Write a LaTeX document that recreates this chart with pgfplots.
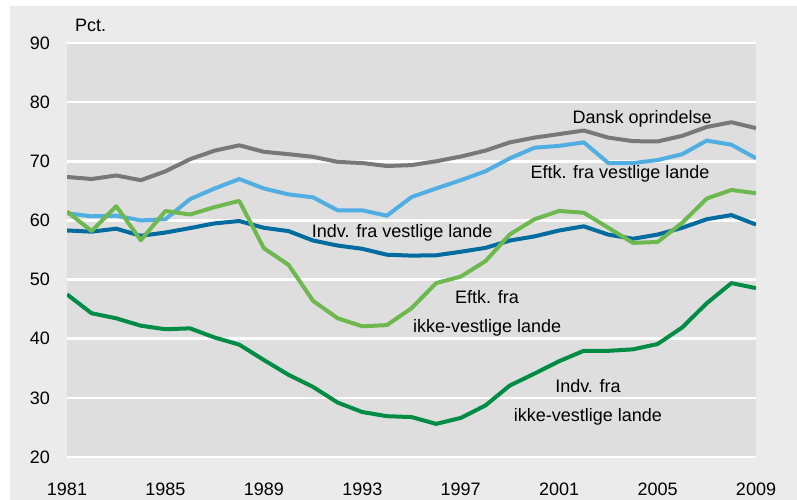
\documentclass[border=0pt]{standalone}
\usepackage{pgfplots}
\pgfplotsset{compat=1.18}
\usepackage{pgfplotstable}
\usepackage{fontspec}
\setmainfont{Liberation Sans}
\definecolor{outerbg}{HTML}{EBEBEB}
\definecolor{plotbg}{HTML}{DEDEDE}
\definecolor{cgray}{HTML}{787878}
\definecolor{clblue}{HTML}{50AEE3}
\definecolor{cdblue}{HTML}{006B9E}
\definecolor{clgreen}{HTML}{6DB94F}
\definecolor{cdgreen}{HTML}{008C45}
\pgfplotstableread{
year dansk eftkv indvv eftkikke indvikke
1981 67.35 61.2 58.3 61.5 47.5
1982 67.0 60.7 58.1 58.2 44.3
1983 67.6 60.8 58.6 62.4 43.45
1984 66.8 60.0 57.4 56.65 42.2
1985 68.3 60.2 57.95 61.6 41.6
1986 70.35 63.6 58.7 61.0 41.75
1987 71.8 65.4 59.5 62.25 40.2
1988 72.7 67.0 59.9 63.3 39.0
1989 71.6 65.4 58.75 55.3 36.4
1990 71.2 64.4 58.2 52.5 33.9
1991 70.75 63.9 56.6 46.4 31.85
1992 69.9 61.7 55.75 43.45 29.2
1993 69.7 61.7 55.2 42.1 27.6
1994 69.2 60.8 54.2 42.3 26.9
1995 69.35 63.95 54.05 45.15 26.75
1996 70.0 65.4 54.1 49.4 25.6
1997 70.8 66.8 54.7 50.5 26.6
1998 71.8 68.3 55.35 53.1 28.7
1999 73.2 70.5 56.6 57.65 32.1
2000 74.0 72.3 57.3 60.2 34.1
2001 74.6 72.6 58.3 61.6 36.2
2002 75.2 73.2 59.0 61.3 37.95
2003 74.0 69.7 57.6 58.75 37.95
2004 73.4 69.7 56.9 56.2 38.2
2005 73.35 70.2 57.6 56.35 39.1
2006 74.3 71.2 58.75 59.6 41.9
2007 75.8 73.5 60.2 63.7 46.0
2008 76.6 72.8 60.9 65.15 49.4
2009 75.6 70.5 59.3 64.6 48.55
}\datatable
\begin{document}
\fontsize{18bp}{22bp}\selectfont
\begin{tikzpicture}[x=1bp,y=1bp]
\useasboundingbox (0,0) rectangle (797,500);
\fill[outerbg] (10,0) rectangle (797,494);
\node[anchor=west, inner sep=0] at (75,475) {Pct.};
\begin{axis}[
  at={(67bp,43bp)}, anchor=south west,
  scale only axis, width=689bp, height=414bp,
  xmin=1981, xmax=2009, ymin=20, ymax=90,
  axis line style={draw=none},
  axis background/.style={fill=plotbg},
  ymajorgrids, grid style={white, line width=2.6bp},
  major tick length=0pt,
  xtick={1981,1985,...,2009}, ytick={20,30,...,90},
  /pgf/number format/assume math mode=true,
  /pgf/number format/1000 sep={},
  tick label style={font=\fontsize{18bp}{22bp}\selectfont},
  yticklabel style={anchor=east, inner sep=0pt, xshift=-17bp},
  xticklabel style={anchor=north, inner sep=0pt, yshift=-26bp},
  every axis plot/.append style={line width=4bp, line join=round, no markers},
]
\addplot[cgray] table[x=year, y=dansk] {\datatable};
\addplot[clblue] table[x=year, y=eftkv] {\datatable};
\addplot[cdblue] table[x=year, y=indvv] {\datatable};
\addplot[clgreen] table[x=year, y=eftkikke] {\datatable};
\addplot[cdgreen] table[x=year, y=indvikke] {\datatable};
\node[inner sep=0] at (axis cs:2004.37,77.2) {Dansk oprindelse};
\node[inner sep=0] at (axis cs:2003.47,67.86) {Eftk. fra vestlige lande};
\node[inner sep=0] at (axis cs:1994.62,57.84) {Indv. fra vestlige lande};
\node[inner sep=0, align=center, font=\fontsize{18bp}{29bp}\selectfont] at (axis cs:1998.07,44.33) {Eftk. fra\\ikke-vestlige lande};
\node[inner sep=0, align=center, font=\fontsize{18bp}{29bp}\selectfont] at (axis cs:2002.17,29.2) {Indv. fra\\ikke-vestlige lande};
\end{axis}
\end{tikzpicture}
\end{document}
